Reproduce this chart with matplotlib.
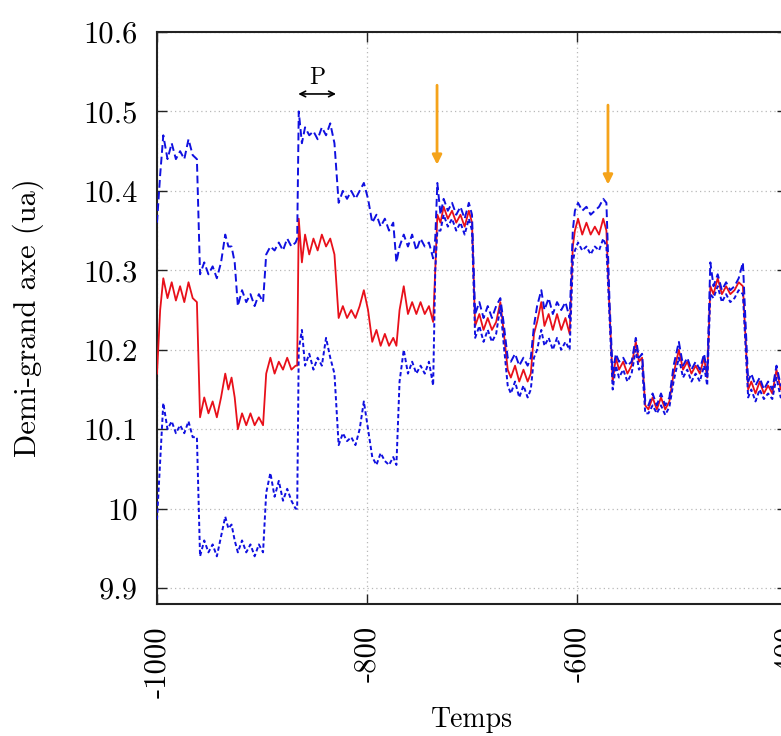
import matplotlib
matplotlib.use("Agg")
import matplotlib.pyplot as plt

# ---------------- data ----------------
time = [-1000, -997, -994, -990, -986, -982, -978, -974, -970, -966, -962,
        -959, -955, -951, -947, -943, -939, -935, -932, -929, -926,
        -923, -919, -915, -911, -907, -903, -899,
        -896, -892, -888, -884, -880, -876, -872, -868, -866.5,
        -865, -862, -859, -855, -851, -847, -843, -839, -835, -831,
        -827, -823, -819, -815, -811, -807, -803, -799,
        -795, -791, -787, -783, -779, -775, -772, -769, -765,
        -761, -757, -753, -749, -745, -741, -737, -735,
        -733, -730, -727, -723, -719, -715, -711, -707, -703, -700,
        -697, -693, -689, -685, -681, -677, -673, -670, -666,
        -663, -659, -655, -651, -647, -644, -641,
        -638, -634, -631, -627, -623, -619, -615, -611, -607, -604, -602,
        -599, -595, -591, -587, -583, -579, -575, -572, -569, -566,
        -563, -560, -556, -552, -548, -544, -541, -538, -535,
        -532, -528, -524, -520, -516, -512, -508, -503,
        -499, -495, -491, -487, -483, -479, -476, -473,
        -470, -466, -462, -458, -454, -450, -446, -442, -437,
        -434, -430, -426, -422, -418, -414, -410, -406, -402]

mean_axis = [10.17, 10.25, 10.29, 10.265, 10.285, 10.262, 10.28, 10.26, 10.285, 10.265, 10.26,
             10.115, 10.14, 10.12, 10.135, 10.115, 10.14, 10.17, 10.15, 10.165, 10.14,
             10.10, 10.12, 10.105, 10.12, 10.105, 10.115, 10.105,
             10.17, 10.19, 10.17, 10.185, 10.175, 10.19, 10.175, 10.18, 10.18,
             10.365, 10.31, 10.345, 10.32, 10.34, 10.325, 10.345, 10.33, 10.34, 10.32,
             10.24, 10.255, 10.24, 10.25, 10.24, 10.255, 10.275, 10.25,
             10.21, 10.225, 10.205, 10.22, 10.205, 10.215, 10.205, 10.25, 10.28,
             10.245, 10.26, 10.245, 10.26, 10.245, 10.255, 10.235, 10.30,
             10.37, 10.36, 10.38, 10.365, 10.375, 10.36, 10.37, 10.355, 10.375, 10.36,
             10.23, 10.245, 10.225, 10.24, 10.225, 10.235, 10.26, 10.225, 10.175,
             10.165, 10.18, 10.16, 10.175, 10.16, 10.17, 10.22,
             10.235, 10.26, 10.23, 10.245, 10.225, 10.245, 10.225, 10.24, 10.22, 10.33, 10.35,
             10.365, 10.345, 10.36, 10.345, 10.355, 10.345, 10.365, 10.35, 10.25, 10.16,
             10.19, 10.175, 10.185, 10.17, 10.18, 10.21, 10.185, 10.19, 10.13,
             10.125, 10.14, 10.125, 10.14, 10.125, 10.135, 10.17, 10.20,
             10.175, 10.185, 10.17, 10.18, 10.17, 10.19, 10.165, 10.28,
             10.27, 10.29, 10.27, 10.28, 10.27, 10.275, 10.285, 10.28, 10.15,
             10.16, 10.145, 10.16, 10.145, 10.155, 10.145, 10.175, 10.15, 10.16]

upper_axis = [10.36, 10.42, 10.47, 10.44, 10.46, 10.44, 10.45, 10.44, 10.465, 10.445, 10.44,
              10.295, 10.31, 10.295, 10.305, 10.29, 10.31, 10.345, 10.33, 10.33, 10.31,
              10.255, 10.275, 10.26, 10.27, 10.255, 10.27, 10.26,
              10.32, 10.33, 10.325, 10.335, 10.325, 10.34, 10.33, 10.335, 10.34,
              10.50, 10.46, 10.48, 10.47, 10.475, 10.465, 10.48, 10.47, 10.485, 10.46,
              10.385, 10.40, 10.39, 10.40, 10.39, 10.40, 10.41, 10.39,
              10.36, 10.37, 10.355, 10.365, 10.35, 10.36, 10.31, 10.33, 10.345,
              10.33, 10.345, 10.325, 10.34, 10.33, 10.335, 10.315, 10.34,
              10.41, 10.37, 10.39, 10.375, 10.385, 10.37, 10.38, 10.365, 10.385, 10.37,
              10.245, 10.26, 10.24, 10.255, 10.24, 10.255, 10.265, 10.235, 10.19,
              10.185, 10.195, 10.18, 10.19, 10.18, 10.19, 10.23,
              10.255, 10.275, 10.25, 10.265, 10.245, 10.26, 10.25, 10.26, 10.24, 10.35, 10.375,
              10.385, 10.375, 10.38, 10.37, 10.375, 10.38, 10.39, 10.385, 10.26, 10.17,
              10.195, 10.185, 10.19, 10.18, 10.185, 10.215, 10.19, 10.195, 10.135,
              10.13, 10.145, 10.13, 10.145, 10.13, 10.14, 10.18, 10.21,
              10.18, 10.19, 10.175, 10.185, 10.175, 10.195, 10.17, 10.31,
              10.28, 10.295, 10.275, 10.285, 10.275, 10.28, 10.29, 10.31, 10.16,
              10.17, 10.155, 10.165, 10.15, 10.16, 10.15, 10.18, 10.155, 10.165]

lower_axis = [9.986, 10.06, 10.133, 10.10, 10.11, 10.095, 10.105, 10.095, 10.11, 10.09, 10.09,
              9.94, 9.96, 9.945, 9.955, 9.94, 9.965, 9.99, 9.975, 9.98, 9.96,
              9.945, 9.96, 9.945, 9.955, 9.94, 9.955, 9.945,
              10.02, 10.045, 10.015, 10.035, 10.01, 10.025, 10.01, 10.00, 10.00,
              10.20, 10.225, 10.18, 10.195, 10.175, 10.19, 10.18, 10.215, 10.19, 10.17,
              10.08, 10.095, 10.085, 10.09, 10.08, 10.10, 10.135, 10.10,
              10.065, 10.055, 10.07, 10.06, 10.055, 10.065, 10.055, 10.16, 10.20,
              10.17, 10.185, 10.17, 10.18, 10.17, 10.185, 10.155, 10.30,
              10.35, 10.35, 10.37, 10.355, 10.365, 10.35, 10.36, 10.345, 10.365, 10.35,
              10.215, 10.23, 10.21, 10.225, 10.21, 10.22, 10.255, 10.21, 10.155,
              10.145, 10.16, 10.14, 10.155, 10.14, 10.15, 10.19,
              10.20, 10.225, 10.205, 10.215, 10.20, 10.215, 10.20, 10.21, 10.20, 10.31, 10.325,
              10.335, 10.325, 10.33, 10.32, 10.33, 10.325, 10.34, 10.33, 10.24, 10.15,
              10.18, 10.165, 10.175, 10.16, 10.17, 10.20, 10.175, 10.18, 10.12,
              10.12, 10.13, 10.12, 10.13, 10.118, 10.128, 10.16, 10.19,
              10.165, 10.175, 10.16, 10.17, 10.16, 10.18, 10.155, 10.27,
              10.265, 10.28, 10.26, 10.27, 10.26, 10.265, 10.275, 10.27, 10.14,
              10.15, 10.135, 10.15, 10.138, 10.145, 10.138, 10.165, 10.14, 10.15]

x_ticks = [-1000, -800, -600, -400]
x_tick_labels = ["-1000", "-800", "-600", "-400"]
y_ticks = [9.9, 10.0, 10.1, 10.2, 10.3, 10.4, 10.5, 10.6]
y_tick_labels = ["9.9", "10", "10.1", "10.2", "10.3", "10.4", "10.5", "10.6"]
orange_arrow_times = [-733.3, -570.5]
orange_arrow_top = [10.533, 10.508]
orange_arrow_tip = [10.433, 10.408]

# ---------------- figure ----------------
plt.rcParams['font.family'] = ['cmr10', 'DejaVu Serif']
plt.rcParams['axes.unicode_minus'] = False

W, H = 781, 736
fig = plt.figure(figsize=(W / 100, H / 100), dpi=100)
left_px, right_px, top_px, bottom_px = 157, 787, 32, 604
ax = fig.add_axes([left_px / W, 1 - bottom_px / H,
                   (right_px - left_px) / W, (bottom_px - top_px) / H])

ax.plot(time, mean_axis, color='#e8101a', lw=1.3, zorder=3)
ax.plot(time, upper_axis, color='#1010e0', lw=1.4, dashes=(4.0, 2.0), zorder=4)
ax.plot(time, lower_axis, color='#1010e0', lw=1.4, dashes=(2.2, 1.4), zorder=4)

ax.set_xlim(-1000, -400)
ax.set_ylim(9.88, 10.6)
ax.set_xticks(x_ticks)
ax.set_xticklabels(x_tick_labels, rotation=90)
ax.set_yticks(y_ticks)
ax.set_yticklabels(y_tick_labels)
ax.tick_params(direction='in', length=7, width=1.0, top=True, right=True,
               labelsize=22, color='#222222')
ax.tick_params(axis='x', pad=16)
ax.tick_params(axis='y', pad=14)
ax.grid(True, color='#b8b8b8', linestyle=(0, (1, 2.5)), lw=0.9)
for s in ax.spines.values():
    s.set_linewidth(1.5)
    s.set_color('#222222')

ax.set_xlabel("Temps", fontsize=20, labelpad=6)
ax.set_ylabel("Demi-grand axe (ua)", fontsize=22, labelpad=28)

# period annotation
ax.annotate("", xy=(-865.5, 10.522), xytext=(-829.5, 10.522),
            arrowprops=dict(arrowstyle='<->', color='black', lw=1.2,
                            shrinkA=0, shrinkB=0, mutation_scale=10))
ax.text(-847.5, 10.528, "P", fontsize=17, ha='center', va='bottom')

for t, y0, y1 in zip(orange_arrow_times, orange_arrow_top, orange_arrow_tip):
    ax.annotate("", xy=(t, y1), xytext=(t, y0),
                arrowprops=dict(arrowstyle='-|>', color='#f5a31a', lw=2.0,
                                shrinkA=0, shrinkB=0, mutation_scale=14),
                zorder=5)

fig.savefig("out.png", dpi=100)
